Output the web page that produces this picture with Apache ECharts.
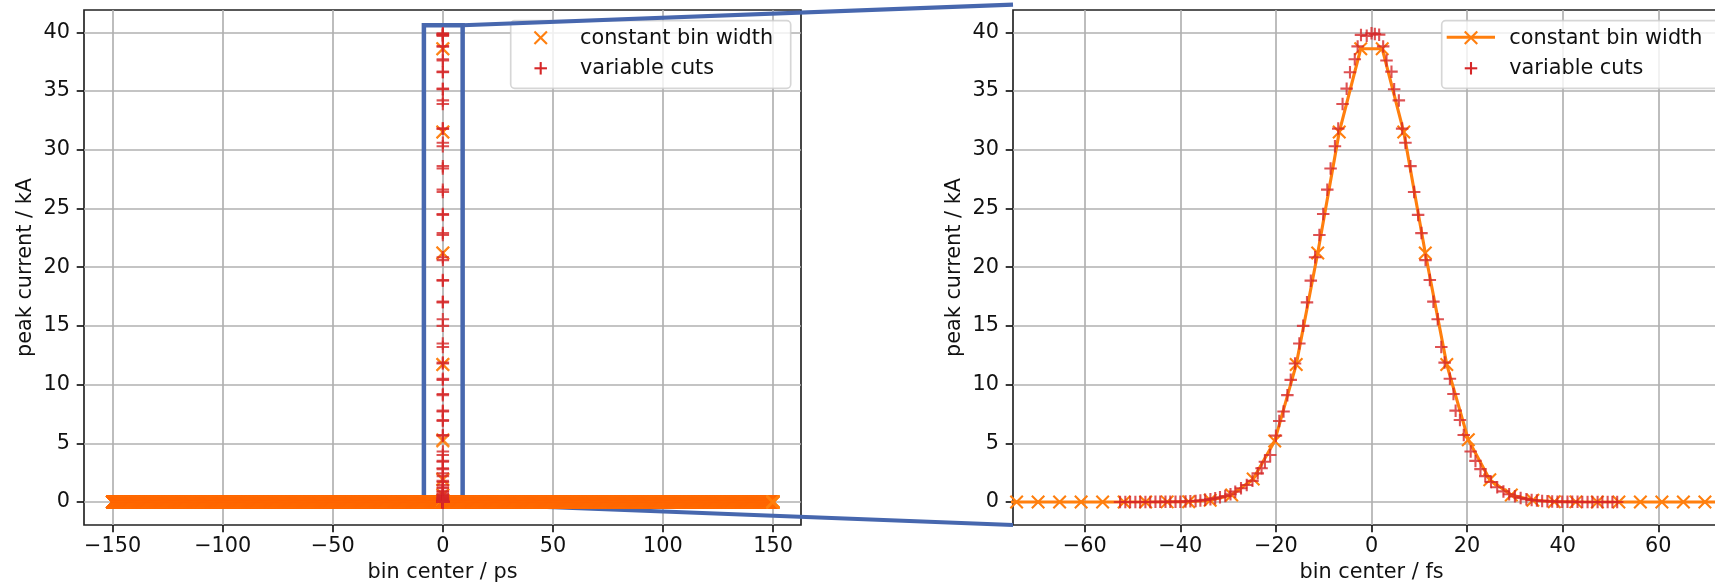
<!DOCTYPE html>
<html>
<head>
<meta charset="utf-8">
<script src="https://cdn.jsdelivr.net/npm/echarts@6/dist/echarts.min.js"></script>
<style>
  html, body { margin: 0; padding: 0; background: #ffffff; }
  #chart { width: 1715px; height: 584px; }
</style>
</head>
<body>
<div id="chart"></div>
<script>
// ---- data ---------------------------------------------------------------
// Width of the constant-width histogram bins (fs) and half-span of the binning (ps)
const BIN_WIDTH_FS = 4.5;
const HALF_SPAN_PS = 150;

// Non-empty constant-width bins: centre (fs) and peak current (kA); all other bins are empty
const CONST_CENTER_FS = [-42.75, -38.25, -33.75, -29.25, -24.75, -20.25, -15.75, -11.25, -6.75, -2.25,
                          2.25, 6.75, 11.25, 15.75, 20.25, 24.75, 29.25, 33.75, 38.25, 42.75];
const CONST_CURRENT_KA = [0.01, 0.03, 0.15, 0.6, 1.95, 5.2, 11.7, 21.2, 31.5, 38.6,
                          38.6, 31.5, 21.2, 11.7, 5.3, 1.9, 0.6, 0.15, 0.03, 0.01];

// Variable-cut bins: centre (fs) and peak current (kA)
const VAR_TIME_FS = [
  -52.6, -51.5, -50.5, -49.4, -48.4, -47.3, -46.3, -45.2, -44.2, -43.1,
  -42.1, -41.0, -40.0, -38.9, -37.9, -36.8, -35.8, -34.8, -33.7, -32.7,
  -31.7, -30.6, -29.5, -28.5, -27.3, -26.1, -24.9, -23.8, -23.0, -22.3,
  -21.2, -20.0, -19.3, -18.4, -17.6, -16.9, -16.0, -15.1, -14.3, -13.5,
  -12.7, -11.8, -10.9, -10.1, -9.25, -8.56, -7.65, -6.96, -6.05, -5.2,
  -4.5, -3.5, -2.9, -2.2, -1.0, 0.0, 0.7, 1.6, 2.44, 3.14,
  4.18, 4.74, 5.72, 6.41, 7.1, 8.15, 8.92, 9.75, 10.45, 11.3,
  12.2, 12.95, 13.85, 14.6, 15.3, 16.4, 17.15, 17.6, 18.5, 19.3,
  20.75, 21.75, 22.8, 23.8, 25.0, 26.3, 27.6, 28.8, 30.0, 31.2,
  32.4, 33.5, 34.6, 35.7, 36.8, 37.8, 38.9, 39.9, 41.0, 42.0,
  43.1, 44.1, 45.2, 46.2, 47.3, 48.3, 49.4, 50.4, 51.4
];
const VAR_CURRENT_KA = [
  0.0, 0.0, 0.0, 0.0, 0.0, 0.0, 0.0, 0.01, 0.01, 0.01,
  0.02, 0.02, 0.03, 0.04, 0.06, 0.09, 0.13, 0.18, 0.24, 0.31,
  0.40, 0.51, 0.66, 0.88, 1.17, 1.45, 1.8, 2.44, 2.87, 3.43,
  4.0, 5.65, 6.9, 7.7, 9.1, 10.4, 11.8, 13.5, 15.0, 17.0,
  18.85, 20.84, 22.74, 24.53, 26.6, 28.4, 30.3, 31.8, 33.9, 35.2,
  36.6, 37.7, 38.8, 39.78, 39.7, 39.92, 39.85, 39.8, 38.8, 37.6,
  36.65, 35.15, 34.2, 31.8, 30.6, 28.6, 26.4, 24.45, 22.9, 20.6,
  18.9, 17.06, 15.56, 13.2, 11.87, 10.5, 9.2, 7.78, 6.98, 5.7,
  4.3, 3.5, 2.8, 2.2, 1.7, 1.25, 0.9, 0.66, 0.48, 0.34,
  0.24, 0.17, 0.12, 0.08, 0.06, 0.04, 0.03, 0.02, 0.02, 0.01,
  0.01, 0.0, 0.0, 0.0, 0.0, 0.0, 0.0, 0.0, 0.0
];

// Tick values
const TICKS_PS = [-150, -100, -50, 0, 50, 100, 150];
const TICKS_FS = [-60, -40, -20, 0, 20, 40, 60];
const TICKS_KA = [0, 5, 10, 15, 20, 25, 30, 35, 40];

// Axis ranges
const RANGE_PS = [-163, 162.7];
const RANGE_FS = [-75, 75];
const RANGE_KA = [-1.96, 41.9];

// Region outlined on the overview (ps, kA) and where its connectors meet the detail axes (fs, kA)
const BOX_PS = [-8.6, 9.0];
const BOX_KA = [-0.15, 40.6];
const LINK_TOP = [-75, 42.35];
const LINK_BOTTOM = [-75, -1.96];

// ---- styling ------------------------------------------------------------
const ORANGE = '#ff7f0e';
const RED = '#d62728';
const BLUE = '#4767ae';
const GRID_GREY = '#b0b0b0';
const INK = '#111111';
const FONT = 'DejaVu Sans';
const FS = 20.8;
const X_SYMBOL = 'path://M0,0L10,10M0,10L10,0';
const PLUS_SYMBOL = 'path://M5,0L5,10M0,5L10,5';
const MS = 12.5;

// ---- series data --------------------------------------------------------
const constLookup = new Map(CONST_CENTER_FS.map((c, i) => [c.toFixed(2), CONST_CURRENT_KA[i]]));
const nHalf = Math.round(HALF_SPAN_PS * 1000 / BIN_WIDTH_FS);
const constPs = [];
const constFs = [];
for (let k = -nHalf; k < nHalf; k++) {
  const cFs = (k + 0.5) * BIN_WIDTH_FS;
  const v = constLookup.has(cFs.toFixed(2)) ? constLookup.get(cFs.toFixed(2)) : 0;
  constPs.push([cFs / 1000, v]);
  if (Math.abs(cFs) < 90) constFs.push([cFs, v]);
}
const varFs = VAR_TIME_FS.map((t, i) => [t, VAR_CURRENT_KA[i]]);
const varPs = VAR_TIME_FS.map((t, i) => [t / 1000, VAR_CURRENT_KA[i]]);

// Tick labels use a true minus sign
const tickFmt = v => String(v).replace('-', '\u2212');

function xAxisOf(grid, range, ticks, name) {
  return {
    type: 'value', gridIndex: grid, min: range[0], max: range[1],
    name: name, nameLocation: 'middle', nameGap: 37,
    nameTextStyle: { fontFamily: FONT, fontSize: FS, color: INK },
    axisLine: { show: false, onZero: false },
    axisTick: { show: true, inside: false, length: 7.3, customValues: ticks,
                lineStyle: { color: INK, width: 1.67 } },
    axisLabel: { customValues: ticks, formatter: tickFmt, margin: 11,
                 fontFamily: FONT, fontSize: FS, color: INK },
    splitLine: { show: true, lineStyle: { color: GRID_GREY, width: 1.67 } }
  };
}
function yAxisOf(grid) {
  return {
    type: 'value', gridIndex: grid, min: RANGE_KA[0], max: RANGE_KA[1],
    name: 'peak current / kA', nameLocation: 'middle', nameGap: 48,
    nameTextStyle: { fontFamily: FONT, fontSize: FS, color: INK },
    axisLine: { show: false, onZero: false },
    axisTick: { show: true, inside: false, length: 7.3, customValues: TICKS_KA,
                lineStyle: { color: INK, width: 1.67 } },
    axisLabel: { customValues: TICKS_KA, formatter: tickFmt, margin: 14,
                 fontFamily: FONT, fontSize: FS, color: INK },
    splitLine: { show: true, lineStyle: { color: GRID_GREY, width: 1.67 } }
  };
}
const markerStyle = c => ({ color: 'rgba(0,0,0,0)', borderColor: c, borderWidth: 2.1 });

const chart = echarts.init(document.getElementById('chart'), null, { renderer: 'canvas' });
chart.setOption({
  animation: false,
  backgroundColor: '#ffffff',
  grid: [
    { left: 84, top: 10, width: 717, height: 515, outerBoundsMode: 'none', containLabel: false,
      show: true, borderColor: '#222222', borderWidth: 1.67 },
    { left: 1013, top: 10, width: 717, height: 515, outerBoundsMode: 'none', containLabel: false,
      show: true, borderColor: '#222222', borderWidth: 1.67 }
  ],
  xAxis: [
    xAxisOf(0, RANGE_PS, TICKS_PS, 'bin center / ps'),
    xAxisOf(1, RANGE_FS, TICKS_FS, 'bin center / fs')
  ],
  yAxis: [yAxisOf(0), yAxisOf(1)],
  series: [
    {
      name: 'constant bin width', type: 'scatter', xAxisIndex: 0, yAxisIndex: 0,
      data: constPs, symbol: X_SYMBOL, symbolSize: MS, itemStyle: markerStyle(ORANGE),
      silent: true, progressive: 0, large: false, z: 2
    },
    {
      name: 'variable cuts', type: 'scatter', xAxisIndex: 0, yAxisIndex: 0,
      data: varPs, symbol: PLUS_SYMBOL, symbolSize: MS, itemStyle: markerStyle(RED),
      silent: true, z: 3
    },
    {
      name: 'constant bin width', type: 'line', xAxisIndex: 1, yAxisIndex: 1,
      data: constFs, symbol: X_SYMBOL, symbolSize: MS, showSymbol: true, showAllSymbol: true,
      lineStyle: { color: ORANGE, width: 3.1 }, itemStyle: markerStyle(ORANGE),
      silent: true, clip: true, z: 2
    },
    {
      name: 'variable cuts', type: 'scatter', xAxisIndex: 1, yAxisIndex: 1,
      data: varFs, symbol: PLUS_SYMBOL, symbolSize: MS, itemStyle: markerStyle(RED),
      silent: true, z: 3
    }
  ]
});

// ---- zoom box, connectors and legends -----------------------------------
const px0 = v => chart.convertToPixel({ xAxisIndex: 0, yAxisIndex: 0 }, v);
const px1 = v => chart.convertToPixel({ xAxisIndex: 1, yAxisIndex: 1 }, v);
const boxTL = px0([BOX_PS[0], BOX_KA[1]]);
const boxBR = px0([BOX_PS[1], BOX_KA[0]]);
const linkTop = px1(LINK_TOP);
const linkBottom = px1(LINK_BOTTOM);

function seg(x1, y1, x2, y2, color, w) {
  return { type: 'line', shape: { x1, y1, x2, y2 }, style: { stroke: color, lineWidth: w }, silent: true };
}
function xMark(cx, cy) {
  const h = MS / 2;
  return [seg(cx - h, cy - h, cx + h, cy + h, ORANGE, 2.1), seg(cx - h, cy + h, cx + h, cy - h, ORANGE, 2.1)];
}
function plusMark(cx, cy) {
  const h = MS / 2;
  return [seg(cx - h, cy, cx + h, cy, RED, 2.1), seg(cx, cy - h, cx, cy + h, RED, 2.1)];
}
function label(x, y, text) {
  return { type: 'text', x, y, silent: true,
           style: { text, fontFamily: FONT, fontSize: FS, fill: INK, verticalAlign: 'middle', align: 'left' } };
}
function legend(x, w, withLine) {
  const items = [
    { type: 'rect', shape: { x: x, y: 20.7, width: w, height: 67.6, r: 4 },
      style: { fill: 'rgba(255,255,255,0.8)', stroke: 'rgba(204,204,204,0.8)', lineWidth: 1.67 }, silent: true }
  ];
  const mx = withLine ? x + 29.3 : x + 30;
  if (withLine) items.push(seg(x + 5, 37.3, x + 53.3, 37.3, ORANGE, 3.1));
  items.push(...xMark(mx, 37.8), ...plusMark(mx, 68.3));
  const tx = withLine ? x + 67.6 : x + 69.3;
  items.push(label(tx, 38.5, 'constant bin width'), label(tx, 68.5, 'variable cuts'));
  return { type: 'group', z: 100, children: items };
}

chart.setOption({
  graphic: [
    legend(510.7, 280, false),
    legend(1441.7, 300, true),
    {
      type: 'group', z: 120, children: [
        { type: 'rect', silent: true,
          shape: { x: boxTL[0], y: boxTL[1], width: boxBR[0] - boxTL[0], height: boxBR[1] - boxTL[1] },
          style: { fill: 'none', stroke: BLUE, lineWidth: 4.5 } },
        seg(boxBR[0], boxTL[1], linkTop[0], linkTop[1], BLUE, 4.2),
        seg(boxBR[0], boxBR[1], linkBottom[0], linkBottom[1], BLUE, 4.2)
      ]
    }
  ]
});
</script>
</body>
</html>
